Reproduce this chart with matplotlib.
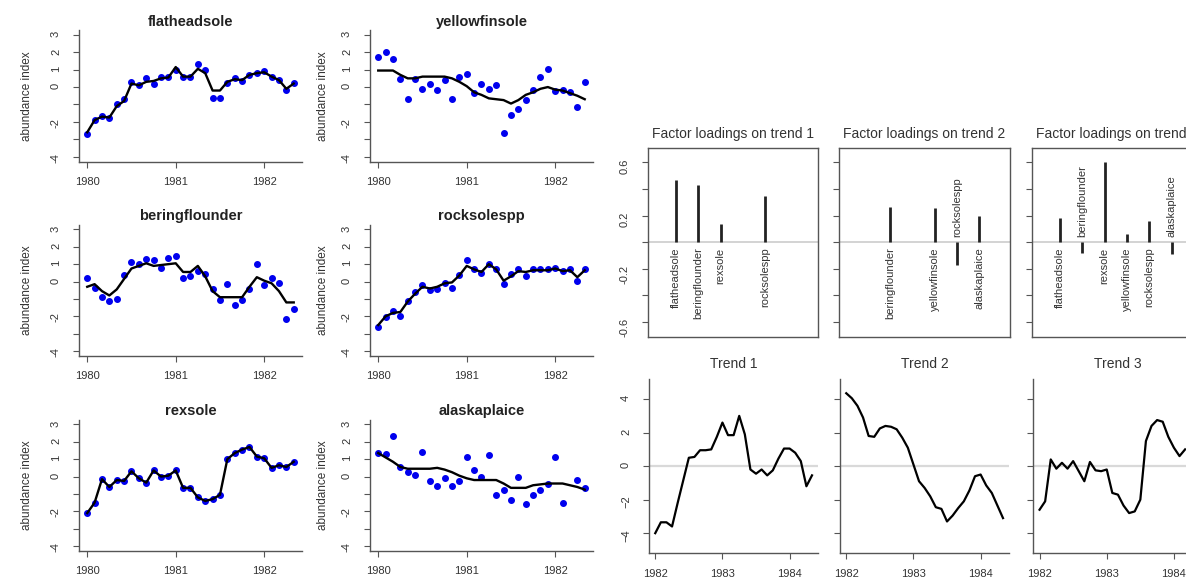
import numpy as np
import matplotlib.pyplot as plt

plt.rcParams["font.family"] = ["Liberation Sans", "DejaVu Sans"]

# ---- species panels: monthly values starting Jan 1980 ----
species = ["flatheadsole", "yellowfinsole", "beringflounder",
           "rocksolespp", "rexsole", "alaskaplaice"]

flathead_obs = [-2.7, -1.9, -1.65, -1.8, -1.0, -0.7, 0.3, 0.1, 0.5, 0.2, 0.6, 0.55, 1.0, 0.55, 0.6,
                1.3, 1.0, -0.65, -0.65, 0.25, 0.5, 0.35, 0.7, 0.8, 0.9, 0.6, 0.4, -0.15, 0.25]
flathead_fit = [-2.6, -1.9, -1.7, -1.75, -1.1, -0.8, 0.2, 0.1, 0.3, 0.35, 0.5, 0.55, 1.15, 0.6, 0.6,
                1.05, 0.8, -0.2, -0.2, 0.3, 0.45, 0.4, 0.7, 0.8, 0.85, 0.6, 0.4, -0.1, 0.2]

yellowfin_obs = [1.75, 2.0, 1.6, 0.45, -0.7, 0.45, -0.1, 0.2, -0.15, 0.4, -0.7, 0.6, 0.75, -0.35, 0.15,
                 -0.1, 0.1, -2.65, -1.6, -1.25, -0.75, -0.15, 0.55, 1.05, -0.2, -0.15, -0.3, -1.15, 0.3]
yellowfin_fit = [0.95, 0.95, 0.95, 0.7, 0.5, 0.5, 0.6, 0.6, 0.6, 0.6, 0.5, 0.3, 0.05, -0.3, -0.45,
                 -0.65, -0.7, -0.75, -0.95, -0.75, -0.45, -0.3, -0.1, 0.0, -0.15, -0.2, -0.35, -0.5, -0.7]

bering_obs = [0.2, -0.35, -0.9, -1.1, -1.0, 0.35, 1.1, 1.0, 1.3, 1.25, 0.8, 1.35, 1.45, 0.2, 0.3,
              0.6, 0.45, -0.4, -1.05, -0.15, -1.35, -1.05, -0.4, 1.0, -0.2, 0.2, -0.1, -2.15, -1.6]
bering_fit = [-0.3, -0.15, -0.55, -0.8, -0.45, 0.15, 0.75, 0.9, 1.05, 0.9, 0.95, 1.0, 1.05, 0.55, 0.55,
              0.9, 0.3, -0.55, -0.9, -0.9, -0.9, -0.9, -0.3, 0.25, 0.05, -0.1, -0.55, -1.2, -1.2]

rocksole_obs = [-2.6, -2.05, -1.7, -2.0, -1.1, -0.6, -0.2, -0.5, -0.4, -0.1, -0.35, 0.4, 1.25, 0.7, 0.5,
                1.0, 0.7, -0.15, 0.45, 0.75, 0.3, 0.7, 0.7, 0.7, 0.8, 0.6, 0.7, 0.05, 0.7]
rocksole_fit = [-2.5, -2.0, -1.8, -1.75, -1.15, -0.7, -0.3, -0.4, -0.3, -0.1, -0.05, 0.35, 0.9, 0.7, 0.55,
                1.0, 0.7, 0.05, 0.3, 0.6, 0.55, 0.65, 0.65, 0.65, 0.75, 0.6, 0.65, 0.25, 0.65]

rex_obs = [-2.1, -1.5, -0.15, -0.6, -0.2, -0.25, 0.3, -0.1, -0.35, 0.35, 0.0, 0.05, 0.35, -0.65, -0.65,
           -1.2, -1.4, -1.3, -1.05, 1.0, 1.35, 1.55, 1.7, 1.15, 1.05, 0.5, 0.65, 0.55, 0.85]
rex_fit = [-2.1, -1.5, -0.15, -0.6, -0.2, -0.25, 0.3, -0.1, -0.35, 0.35, 0.0, 0.05, 0.35, -0.65, -0.65,
           -1.2, -1.4, -1.3, -1.05, 1.0, 1.35, 1.55, 1.7, 1.15, 1.05, 0.5, 0.65, 0.55, 0.85]

plaice_obs = [1.35, 1.3, 2.35, 0.55, 0.25, 0.1, 1.4, -0.25, -0.55, -0.1, -0.55, -0.25, 1.1, 0.35, -0.05,
              1.25, -1.05, -0.8, -1.35, 0.0, -1.6, -1.05, -0.8, -0.4, 1.1, -1.5, np.nan, -0.2, -0.65]
plaice_fit = [1.35, 1.1, 0.85, 0.55, 0.45, 0.45, 0.45, 0.45, 0.5, 0.4, 0.25, 0.05, -0.1, -0.2, -0.2,
              -0.2, -0.2, -0.4, -0.65, -0.65, -0.65, -0.5, -0.45, -0.4, -0.4, -0.4, -0.5, -0.6, -0.75]

obs_series = [flathead_obs, yellowfin_obs, bering_obs, rocksole_obs, rex_obs, plaice_obs]
fit_series = [flathead_fit, yellowfin_fit, bering_fit, rocksole_fit, rex_fit, plaice_fit]
species_start = 1980
species_xticks = [1980, 1981, 1982]
abund_ticks = [-4, -3, -2, -1, 0, 1, 2, 3]
abund_labels = ["-4", "", "-2", "", "0", "1", "2", "3"]

# ---- factor loadings ----
load_species = ["flatheadsole", "beringflounder", "rexsole",
                "yellowfinsole", "rocksolespp", "alaskaplaice"]
load_trend1 = [0.47, 0.43, 0.14, 0.0, 0.35, 0.0]
load_trend2 = [0.0, 0.265, 0.0, 0.26, -0.17, 0.195]
load_trend3 = [0.18, -0.08, 0.60, 0.06, 0.16, -0.09]
min_loading = 0.05
load_ticks = [-0.6, -0.4, -0.2, 0.0, 0.2, 0.4, 0.6]
load_labels = ["-0.6", "", "-0.2", "", "0.2", "", "0.6"]

# ---- trends: monthly values starting Jan 1982 ----
trend1 = [-4.0, -3.35, -3.35, -3.6, -2.2, -0.85, 0.5, 0.55, 0.95, 0.95, 1.0, 1.75, 2.6, 1.85, 1.85,
          3.0, 1.9, -0.2, -0.45, -0.2, -0.55, -0.25, 0.45, 1.05, 1.05, 0.8, 0.3, -1.2, -0.55]
trend2 = [4.35, 4.05, 3.6, 2.9, 1.8, 1.75, 2.25, 2.4, 2.35, 2.2, 1.7, 1.1, 0.1, -0.9, -1.3,
          -1.8, -2.45, -2.55, -3.3, -2.95, -2.5, -2.1, -1.45, -0.6, -0.5, -1.15, -1.6, -2.35, -3.1]
trend3 = [-2.6, -2.1, 0.4, -0.15, 0.2, -0.15, 0.3, -0.3, -0.9, 0.25, -0.25, -0.3, -0.2, -1.6, -1.7,
          -2.35, -2.8, -2.7, -2.0, 1.5, 2.4, 2.75, 2.65, 1.75, 1.1, 0.6, 1.0]
trend_start = 1982
trend_xticks = [1982, 1983, 1984]
trend_yticks = [-4, -2, 0, 2, 4]

W, H = 1186, 587
fig = plt.figure(figsize=(W / 100, H / 100), dpi=100)
TXT = "#333333"
AX = "#555555"


def box(left, top, width, height):
    return [left / W, 1 - (top + height) / H, width / W, height / H]


def l_frame(ax):
    for s in ["top", "right"]:
        ax.spines[s].set_visible(False)
    for s in ["left", "bottom"]:
        ax.spines[s].set_color(AX)
        ax.spines[s].set_linewidth(1.0)
    ax.tick_params(length=4, width=0.8, color=AX, labelcolor=TXT, labelsize=8)


# species grid
col_left = [79, 370]
row_top = [30, 224.5, 419.5]
ylab_x = [27.5, 323]
for k, name in enumerate(species):
    r, c = divmod(k, 2)
    ax = fig.add_axes(box(col_left[c], row_top[r], 223, 131.5))
    t = species_start + np.arange(len(obs_series[k])) / 12
    ax.plot(t, obs_series[k], "o", color="#0000ee", ms=4, zorder=2)
    ax.plot(t, fit_series[k], color="black", lw=1.7, zorder=3)
    ax.set_xlim(1979.907, 1982.427)
    ax.set_ylim(-4.28, 3.28)
    ax.set_xticks(species_xticks)
    ax.set_yticks(abund_ticks)
    ax.set_yticklabels(abund_labels)
    l_frame(ax)
    ax.tick_params(axis="y", labelrotation=90, pad=9)
    ax.tick_params(axis="x", pad=7)
    ax.set_title(name, fontsize=10.5, fontweight="bold", color="#222222", pad=3)
    fig.text(ylab_x[c] / W, 1 - (row_top[r] + 65.75) / H, "abundance index",
             rotation=90, ha="center", va="center", fontsize=8.5, color=TXT)

# factor loadings
load_left = [647.7, 839.3, 1031.7]
idx = np.arange(1, len(load_species) + 1)
for j, ld in enumerate([load_trend1, load_trend2, load_trend3]):
    ax = fig.add_axes(box(load_left[j], 147.7, 170.6, 189))
    ax.axhline(0, color="#cccccc", lw=1.2, zorder=1)
    for i, v in enumerate(ld):
        if abs(v) > min_loading:
            ax.vlines(idx[i], 0, v, color="#222222", lw=2, zorder=2)
            if v > 0:
                ax.text(idx[i], -0.04, load_species[i], rotation=90, ha="center", va="top",
                        fontsize=8, color=TXT)
            else:
                ax.text(idx[i], 0.04, load_species[i], rotation=90, ha="center", va="bottom",
                        fontsize=8, color=TXT)
    ax.set_xlim(-0.27, 7.37)
    ax.set_ylim(-0.71, 0.71)
    ax.set_xticks([])
    ax.set_yticks(load_ticks)
    ax.set_yticklabels(load_labels if j == 0 else [""] * len(load_ticks))
    for s in ax.spines.values():
        s.set_color(AX)
        s.set_linewidth(1.0)
    ax.tick_params(axis="y", length=4, width=0.8, color=AX, labelcolor=TXT, labelsize=8,
                   labelrotation=90, pad=9)
    ax.set_title("Factor loadings on trend %d" % (j + 1), fontsize=10, color=TXT, pad=7)

# trends
trend_left = [649, 840, 1033.3]
for j, tr in enumerate([trend1, trend2, trend3]):
    ax = fig.add_axes(box(trend_left[j], 379, 169.3, 174.3))
    t = trend_start + np.arange(len(tr)) / 12
    ax.axhline(0, color="#d9d9d9", lw=1.6, zorder=1)
    ax.plot(t, tr, color="black", lw=1.6, zorder=2)
    ax.set_xlim(1981.907, 1984.427)
    ax.set_ylim(-5.2, 5.2)
    ax.set_xticks(trend_xticks)
    ax.set_yticks(trend_yticks)
    if j > 0:
        ax.set_yticklabels([""] * len(trend_yticks))
    l_frame(ax)
    ax.tick_params(axis="y", labelrotation=90, pad=9)
    ax.tick_params(axis="x", pad=7)
    ax.set_title("Trend %d" % (j + 1), fontsize=10, color=TXT, pad=8)

fig.savefig("out.png", dpi=100, facecolor="white")
